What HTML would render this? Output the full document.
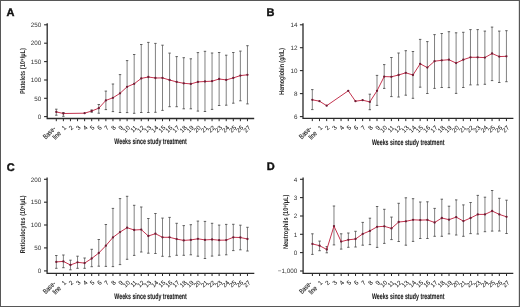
<!DOCTYPE html>
<html><head><meta charset="utf-8"><style>
html,body{margin:0;padding:0;background:#fff;}
body{width:520px;height:307px;overflow:hidden;}
svg{display:block;font-family:"Liberation Sans", sans-serif;will-change:transform;text-rendering:geometricPrecision;}
text{-webkit-font-smoothing:antialiased;}
</style></head><body>
<svg width="520" height="307" viewBox="0 0 520 307">
<rect x="0" y="0" width="520" height="307" fill="#fff"/>
<text x="6.5" y="15.8" font-size="11" font-weight="bold" fill="#111" stroke="#111" stroke-width="0.4">A</text>
<path d="M47.2 23.3V118.5H254.2" fill="none" stroke="#2a2a2a" stroke-width="1.3"/>
<path d="M44.1 24.8H47.2" stroke="#2a2a2a" stroke-width="1.1"/>
<text x="41.3" y="27.0" font-size="6.3" text-anchor="end" fill="#333333">250</text>
<path d="M44.1 43.2H47.2" stroke="#2a2a2a" stroke-width="1.1"/>
<text x="41.3" y="45.4" font-size="6.3" text-anchor="end" fill="#333333">200</text>
<path d="M44.1 61.6H47.2" stroke="#2a2a2a" stroke-width="1.1"/>
<text x="41.3" y="63.8" font-size="6.3" text-anchor="end" fill="#333333">150</text>
<path d="M44.1 80.0H47.2" stroke="#2a2a2a" stroke-width="1.1"/>
<text x="41.3" y="82.2" font-size="6.3" text-anchor="end" fill="#333333">100</text>
<path d="M44.1 98.3H47.2" stroke="#2a2a2a" stroke-width="1.1"/>
<text x="41.3" y="100.5" font-size="6.3" text-anchor="end" fill="#333333">50</text>
<path d="M44.1 116.6H47.2" stroke="#2a2a2a" stroke-width="1.1"/>
<text x="41.3" y="118.8" font-size="6.3" text-anchor="end" fill="#333333">0</text>
<path d="M56.30 118.5v2.7" stroke="#2a2a2a" stroke-width="1"/>
<text transform="translate(56.00,129.30) rotate(-45) scale(0.79,1)" font-size="7" text-anchor="end" fill="#1e1e1e" stroke="#1e1e1e" stroke-width="0.12">Base-</text>
<text transform="translate(61.50,133.90) rotate(-45) scale(0.79,1)" font-size="7" text-anchor="end" fill="#1e1e1e" stroke="#1e1e1e" stroke-width="0.12">line</text>
<path d="M63.38 118.5v2.7" stroke="#2a2a2a" stroke-width="1"/>
<text transform="translate(66.78,128.10) rotate(-45) scale(1.0,1)" font-size="6.3" text-anchor="end" fill="#111" stroke="#111" stroke-width="0.05">1</text>
<path d="M70.46 118.5v2.7" stroke="#2a2a2a" stroke-width="1"/>
<text transform="translate(73.86,128.10) rotate(-45) scale(1.0,1)" font-size="6.3" text-anchor="end" fill="#111" stroke="#111" stroke-width="0.05">2</text>
<path d="M77.54 118.5v2.7" stroke="#2a2a2a" stroke-width="1"/>
<text transform="translate(80.94,128.10) rotate(-45) scale(1.0,1)" font-size="6.3" text-anchor="end" fill="#111" stroke="#111" stroke-width="0.05">3</text>
<path d="M84.62 118.5v2.7" stroke="#2a2a2a" stroke-width="1"/>
<text transform="translate(88.02,128.10) rotate(-45) scale(1.0,1)" font-size="6.3" text-anchor="end" fill="#111" stroke="#111" stroke-width="0.05">4</text>
<path d="M91.70 118.5v2.7" stroke="#2a2a2a" stroke-width="1"/>
<text transform="translate(95.10,128.10) rotate(-45) scale(1.0,1)" font-size="6.3" text-anchor="end" fill="#111" stroke="#111" stroke-width="0.05">5</text>
<path d="M98.78 118.5v2.7" stroke="#2a2a2a" stroke-width="1"/>
<text transform="translate(102.18,128.10) rotate(-45) scale(1.0,1)" font-size="6.3" text-anchor="end" fill="#111" stroke="#111" stroke-width="0.05">6</text>
<path d="M105.86 118.5v2.7" stroke="#2a2a2a" stroke-width="1"/>
<text transform="translate(109.26,128.10) rotate(-45) scale(1.0,1)" font-size="6.3" text-anchor="end" fill="#111" stroke="#111" stroke-width="0.05">7</text>
<path d="M112.94 118.5v2.7" stroke="#2a2a2a" stroke-width="1"/>
<text transform="translate(116.34,128.10) rotate(-45) scale(1.0,1)" font-size="6.3" text-anchor="end" fill="#111" stroke="#111" stroke-width="0.05">8</text>
<path d="M120.02 118.5v2.7" stroke="#2a2a2a" stroke-width="1"/>
<text transform="translate(123.42,128.10) rotate(-45) scale(1.0,1)" font-size="6.3" text-anchor="end" fill="#111" stroke="#111" stroke-width="0.05">9</text>
<path d="M127.10 118.5v2.7" stroke="#2a2a2a" stroke-width="1"/>
<text transform="translate(130.50,128.10) rotate(-45) scale(1.0,1)" font-size="6.3" text-anchor="end" fill="#111" stroke="#111" stroke-width="0.05">10</text>
<path d="M134.18 118.5v2.7" stroke="#2a2a2a" stroke-width="1"/>
<text transform="translate(137.58,128.10) rotate(-45) scale(1.0,1)" font-size="6.3" text-anchor="end" fill="#111" stroke="#111" stroke-width="0.05">11</text>
<path d="M141.26 118.5v2.7" stroke="#2a2a2a" stroke-width="1"/>
<text transform="translate(144.66,128.10) rotate(-45) scale(1.0,1)" font-size="6.3" text-anchor="end" fill="#111" stroke="#111" stroke-width="0.05">12</text>
<path d="M148.34 118.5v2.7" stroke="#2a2a2a" stroke-width="1"/>
<text transform="translate(151.74,128.10) rotate(-45) scale(1.0,1)" font-size="6.3" text-anchor="end" fill="#111" stroke="#111" stroke-width="0.05">13</text>
<path d="M155.42 118.5v2.7" stroke="#2a2a2a" stroke-width="1"/>
<text transform="translate(158.82,128.10) rotate(-45) scale(1.0,1)" font-size="6.3" text-anchor="end" fill="#111" stroke="#111" stroke-width="0.05">14</text>
<path d="M162.50 118.5v2.7" stroke="#2a2a2a" stroke-width="1"/>
<text transform="translate(165.90,128.10) rotate(-45) scale(1.0,1)" font-size="6.3" text-anchor="end" fill="#111" stroke="#111" stroke-width="0.05">15</text>
<path d="M169.58 118.5v2.7" stroke="#2a2a2a" stroke-width="1"/>
<text transform="translate(172.98,128.10) rotate(-45) scale(1.0,1)" font-size="6.3" text-anchor="end" fill="#111" stroke="#111" stroke-width="0.05">16</text>
<path d="M176.66 118.5v2.7" stroke="#2a2a2a" stroke-width="1"/>
<text transform="translate(180.06,128.10) rotate(-45) scale(1.0,1)" font-size="6.3" text-anchor="end" fill="#111" stroke="#111" stroke-width="0.05">17</text>
<path d="M183.74 118.5v2.7" stroke="#2a2a2a" stroke-width="1"/>
<text transform="translate(187.14,128.10) rotate(-45) scale(1.0,1)" font-size="6.3" text-anchor="end" fill="#111" stroke="#111" stroke-width="0.05">18</text>
<path d="M190.82 118.5v2.7" stroke="#2a2a2a" stroke-width="1"/>
<text transform="translate(194.22,128.10) rotate(-45) scale(1.0,1)" font-size="6.3" text-anchor="end" fill="#111" stroke="#111" stroke-width="0.05">19</text>
<path d="M197.90 118.5v2.7" stroke="#2a2a2a" stroke-width="1"/>
<text transform="translate(201.30,128.10) rotate(-45) scale(1.0,1)" font-size="6.3" text-anchor="end" fill="#111" stroke="#111" stroke-width="0.05">20</text>
<path d="M204.98 118.5v2.7" stroke="#2a2a2a" stroke-width="1"/>
<text transform="translate(208.38,128.10) rotate(-45) scale(1.0,1)" font-size="6.3" text-anchor="end" fill="#111" stroke="#111" stroke-width="0.05">21</text>
<path d="M212.06 118.5v2.7" stroke="#2a2a2a" stroke-width="1"/>
<text transform="translate(215.46,128.10) rotate(-45) scale(1.0,1)" font-size="6.3" text-anchor="end" fill="#111" stroke="#111" stroke-width="0.05">22</text>
<path d="M219.14 118.5v2.7" stroke="#2a2a2a" stroke-width="1"/>
<text transform="translate(222.54,128.10) rotate(-45) scale(1.0,1)" font-size="6.3" text-anchor="end" fill="#111" stroke="#111" stroke-width="0.05">23</text>
<path d="M226.22 118.5v2.7" stroke="#2a2a2a" stroke-width="1"/>
<text transform="translate(229.62,128.10) rotate(-45) scale(1.0,1)" font-size="6.3" text-anchor="end" fill="#111" stroke="#111" stroke-width="0.05">24</text>
<path d="M233.30 118.5v2.7" stroke="#2a2a2a" stroke-width="1"/>
<text transform="translate(236.70,128.10) rotate(-45) scale(1.0,1)" font-size="6.3" text-anchor="end" fill="#111" stroke="#111" stroke-width="0.05">25</text>
<path d="M240.38 118.5v2.7" stroke="#2a2a2a" stroke-width="1"/>
<text transform="translate(243.78,128.10) rotate(-45) scale(1.0,1)" font-size="6.3" text-anchor="end" fill="#111" stroke="#111" stroke-width="0.05">26</text>
<path d="M247.46 118.5v2.7" stroke="#2a2a2a" stroke-width="1"/>
<text transform="translate(250.86,128.10) rotate(-45) scale(1.0,1)" font-size="6.3" text-anchor="end" fill="#111" stroke="#111" stroke-width="0.05">27</text>
<text transform="translate(25.0,71.1) rotate(-90)" font-size="7" font-weight="bold" text-anchor="middle" fill="#262626" textLength="46.0" lengthAdjust="spacingAndGlyphs">Platelets (10⁹/µL)</text>
<text x="150.6" y="144.4" font-size="8.1" font-weight="bold" text-anchor="middle" fill="#222" stroke="#222" stroke-width="0.1" textLength="72.5" lengthAdjust="spacingAndGlyphs">Weeks since study treatment</text>
<path d="M56.30 109.2V115.2" stroke="#6a6a6a" stroke-width="0.85" fill="none"/>
<path d="M55.10 109.2h2.4M55.10 115.2h2.4" stroke="#505050" stroke-width="0.9" fill="none"/>
<path d="M63.38 112.6V116.3" stroke="#6a6a6a" stroke-width="0.85" fill="none"/>
<path d="M62.18 112.6h2.4M62.18 116.3h2.4" stroke="#505050" stroke-width="0.9" fill="none"/>
<path d="M91.70 110.0V112.2" stroke="#6a6a6a" stroke-width="0.85" fill="none"/>
<path d="M90.50 110.0h2.4M90.50 112.2h2.4" stroke="#505050" stroke-width="0.9" fill="none"/>
<path d="M98.78 104.5V113.2" stroke="#6a6a6a" stroke-width="0.85" fill="none"/>
<path d="M97.58 104.5h2.4M97.58 113.2h2.4" stroke="#505050" stroke-width="0.9" fill="none"/>
<path d="M105.86 91.1V109.6" stroke="#6a6a6a" stroke-width="0.85" fill="none"/>
<path d="M104.66 91.1h2.4M104.66 109.6h2.4" stroke="#505050" stroke-width="0.9" fill="none"/>
<path d="M112.94 84.0V111.6" stroke="#6a6a6a" stroke-width="0.85" fill="none"/>
<path d="M111.74 84.0h2.4M111.74 111.6h2.4" stroke="#505050" stroke-width="0.9" fill="none"/>
<path d="M120.02 74.6V112.5" stroke="#6a6a6a" stroke-width="0.85" fill="none"/>
<path d="M118.82 74.6h2.4M118.82 112.5h2.4" stroke="#505050" stroke-width="0.9" fill="none"/>
<path d="M127.10 60.6V112.6" stroke="#6a6a6a" stroke-width="0.85" fill="none"/>
<path d="M125.90 60.6h2.4M125.90 112.6h2.4" stroke="#505050" stroke-width="0.9" fill="none"/>
<path d="M134.18 54.5V113.3" stroke="#6a6a6a" stroke-width="0.85" fill="none"/>
<path d="M132.98 54.5h2.4M132.98 113.3h2.4" stroke="#505050" stroke-width="0.9" fill="none"/>
<path d="M141.26 44.5V112.5" stroke="#6a6a6a" stroke-width="0.85" fill="none"/>
<path d="M140.06 44.5h2.4M140.06 112.5h2.4" stroke="#505050" stroke-width="0.9" fill="none"/>
<path d="M148.34 42.4V112.5" stroke="#6a6a6a" stroke-width="0.85" fill="none"/>
<path d="M147.14 42.4h2.4M147.14 112.5h2.4" stroke="#505050" stroke-width="0.9" fill="none"/>
<path d="M155.42 43.4V112.3" stroke="#6a6a6a" stroke-width="0.85" fill="none"/>
<path d="M154.22 43.4h2.4M154.22 112.3h2.4" stroke="#505050" stroke-width="0.9" fill="none"/>
<path d="M162.50 45.2V110.4" stroke="#6a6a6a" stroke-width="0.85" fill="none"/>
<path d="M161.30 45.2h2.4M161.30 110.4h2.4" stroke="#505050" stroke-width="0.9" fill="none"/>
<path d="M169.58 53.1V106.7" stroke="#6a6a6a" stroke-width="0.85" fill="none"/>
<path d="M168.38 53.1h2.4M168.38 106.7h2.4" stroke="#505050" stroke-width="0.9" fill="none"/>
<path d="M176.66 56.6V106.7" stroke="#6a6a6a" stroke-width="0.85" fill="none"/>
<path d="M175.46 56.6h2.4M175.46 106.7h2.4" stroke="#505050" stroke-width="0.9" fill="none"/>
<path d="M183.74 57.7V108.8" stroke="#6a6a6a" stroke-width="0.85" fill="none"/>
<path d="M182.54 57.7h2.4M182.54 108.8h2.4" stroke="#505050" stroke-width="0.9" fill="none"/>
<path d="M190.82 58.8V108.8" stroke="#6a6a6a" stroke-width="0.85" fill="none"/>
<path d="M189.62 58.8h2.4M189.62 108.8h2.4" stroke="#505050" stroke-width="0.9" fill="none"/>
<path d="M197.90 52.6V111.1" stroke="#6a6a6a" stroke-width="0.85" fill="none"/>
<path d="M196.70 52.6h2.4M196.70 111.1h2.4" stroke="#505050" stroke-width="0.9" fill="none"/>
<path d="M204.98 51.3V111.5" stroke="#6a6a6a" stroke-width="0.85" fill="none"/>
<path d="M203.78 51.3h2.4M203.78 111.5h2.4" stroke="#505050" stroke-width="0.9" fill="none"/>
<path d="M212.06 53.0V109.4" stroke="#6a6a6a" stroke-width="0.85" fill="none"/>
<path d="M210.86 53.0h2.4M210.86 109.4h2.4" stroke="#505050" stroke-width="0.9" fill="none"/>
<path d="M219.14 52.5V105.5" stroke="#6a6a6a" stroke-width="0.85" fill="none"/>
<path d="M217.94 52.5h2.4M217.94 105.5h2.4" stroke="#505050" stroke-width="0.9" fill="none"/>
<path d="M226.22 55.2V105.2" stroke="#6a6a6a" stroke-width="0.85" fill="none"/>
<path d="M225.02 55.2h2.4M225.02 105.2h2.4" stroke="#505050" stroke-width="0.9" fill="none"/>
<path d="M233.30 52.5V103.2" stroke="#6a6a6a" stroke-width="0.85" fill="none"/>
<path d="M232.10 52.5h2.4M232.10 103.2h2.4" stroke="#505050" stroke-width="0.9" fill="none"/>
<path d="M240.38 51.1V100.8" stroke="#6a6a6a" stroke-width="0.85" fill="none"/>
<path d="M239.18 51.1h2.4M239.18 100.8h2.4" stroke="#505050" stroke-width="0.9" fill="none"/>
<path d="M247.46 45.7V103.9" stroke="#6a6a6a" stroke-width="0.85" fill="none"/>
<path d="M246.26 45.7h2.4M246.26 103.9h2.4" stroke="#505050" stroke-width="0.9" fill="none"/>
<polyline points="56.30,111.9 63.38,113.5 84.62,113.2 91.70,111.0 98.78,108.2 105.86,100.4 112.94,97.8 120.02,93.3 127.10,86.8 134.18,83.8 141.26,78.4 148.34,77.0 155.42,78.0 162.50,77.9 169.58,80.0 176.66,81.9 183.74,83.3 190.82,83.9 197.90,81.9 204.98,81.5 212.06,81.2 219.14,79.0 226.22,79.9 233.30,77.9 240.38,75.6 247.46,74.8" fill="none" stroke="#c4344f" stroke-width="1.0"/>
<circle cx="56.30" cy="111.9" r="1.15" fill="#6e1c34"/>
<circle cx="63.38" cy="113.5" r="1.15" fill="#6e1c34"/>
<circle cx="84.62" cy="113.2" r="1.15" fill="#6e1c34"/>
<circle cx="91.70" cy="111.0" r="1.15" fill="#6e1c34"/>
<circle cx="98.78" cy="108.2" r="1.15" fill="#6e1c34"/>
<circle cx="105.86" cy="100.4" r="1.15" fill="#6e1c34"/>
<circle cx="112.94" cy="97.8" r="1.15" fill="#6e1c34"/>
<circle cx="120.02" cy="93.3" r="1.15" fill="#6e1c34"/>
<circle cx="127.10" cy="86.8" r="1.15" fill="#6e1c34"/>
<circle cx="134.18" cy="83.8" r="1.15" fill="#6e1c34"/>
<circle cx="141.26" cy="78.4" r="1.15" fill="#6e1c34"/>
<circle cx="148.34" cy="77.0" r="1.15" fill="#6e1c34"/>
<circle cx="155.42" cy="78.0" r="1.15" fill="#6e1c34"/>
<circle cx="162.50" cy="77.9" r="1.15" fill="#6e1c34"/>
<circle cx="169.58" cy="80.0" r="1.15" fill="#6e1c34"/>
<circle cx="176.66" cy="81.9" r="1.15" fill="#6e1c34"/>
<circle cx="183.74" cy="83.3" r="1.15" fill="#6e1c34"/>
<circle cx="190.82" cy="83.9" r="1.15" fill="#6e1c34"/>
<circle cx="197.90" cy="81.9" r="1.15" fill="#6e1c34"/>
<circle cx="204.98" cy="81.5" r="1.15" fill="#6e1c34"/>
<circle cx="212.06" cy="81.2" r="1.15" fill="#6e1c34"/>
<circle cx="219.14" cy="79.0" r="1.15" fill="#6e1c34"/>
<circle cx="226.22" cy="79.9" r="1.15" fill="#6e1c34"/>
<circle cx="233.30" cy="77.9" r="1.15" fill="#6e1c34"/>
<circle cx="240.38" cy="75.6" r="1.15" fill="#6e1c34"/>
<circle cx="247.46" cy="74.8" r="1.15" fill="#6e1c34"/>
<text x="266.6" y="15.8" font-size="11" font-weight="bold" fill="#111" stroke="#111" stroke-width="0.4">B</text>
<path d="M303.0 23.3V118.4H513.4" fill="none" stroke="#2a2a2a" stroke-width="1.3"/>
<path d="M299.9 24.8H303.0" stroke="#2a2a2a" stroke-width="1.1"/>
<text x="297.6" y="27.0" font-size="6.3" text-anchor="end" fill="#333333">14</text>
<path d="M299.9 47.7H303.0" stroke="#2a2a2a" stroke-width="1.1"/>
<text x="297.6" y="49.9" font-size="6.3" text-anchor="end" fill="#333333">12</text>
<path d="M299.9 70.6H303.0" stroke="#2a2a2a" stroke-width="1.1"/>
<text x="297.6" y="72.8" font-size="6.3" text-anchor="end" fill="#333333">10</text>
<path d="M299.9 93.6H303.0" stroke="#2a2a2a" stroke-width="1.1"/>
<text x="297.6" y="95.8" font-size="6.3" text-anchor="end" fill="#333333">8</text>
<path d="M299.9 116.6H303.0" stroke="#2a2a2a" stroke-width="1.1"/>
<text x="297.6" y="118.8" font-size="6.3" text-anchor="end" fill="#333333">6</text>
<path d="M312.30 118.4v2.7" stroke="#2a2a2a" stroke-width="1"/>
<text transform="translate(312.00,129.20) rotate(-45) scale(0.79,1)" font-size="7" text-anchor="end" fill="#1e1e1e" stroke="#1e1e1e" stroke-width="0.12">Base-</text>
<text transform="translate(317.50,133.80) rotate(-45) scale(0.79,1)" font-size="7" text-anchor="end" fill="#1e1e1e" stroke="#1e1e1e" stroke-width="0.12">line</text>
<path d="M319.49 118.4v2.7" stroke="#2a2a2a" stroke-width="1"/>
<text transform="translate(322.89,128.00) rotate(-45) scale(1.0,1)" font-size="6.3" text-anchor="end" fill="#111" stroke="#111" stroke-width="0.05">1</text>
<path d="M326.68 118.4v2.7" stroke="#2a2a2a" stroke-width="1"/>
<text transform="translate(330.08,128.00) rotate(-45) scale(1.0,1)" font-size="6.3" text-anchor="end" fill="#111" stroke="#111" stroke-width="0.05">2</text>
<path d="M333.87 118.4v2.7" stroke="#2a2a2a" stroke-width="1"/>
<text transform="translate(337.27,128.00) rotate(-45) scale(1.0,1)" font-size="6.3" text-anchor="end" fill="#111" stroke="#111" stroke-width="0.05">3</text>
<path d="M341.06 118.4v2.7" stroke="#2a2a2a" stroke-width="1"/>
<text transform="translate(344.46,128.00) rotate(-45) scale(1.0,1)" font-size="6.3" text-anchor="end" fill="#111" stroke="#111" stroke-width="0.05">4</text>
<path d="M348.25 118.4v2.7" stroke="#2a2a2a" stroke-width="1"/>
<text transform="translate(351.65,128.00) rotate(-45) scale(1.0,1)" font-size="6.3" text-anchor="end" fill="#111" stroke="#111" stroke-width="0.05">5</text>
<path d="M355.44 118.4v2.7" stroke="#2a2a2a" stroke-width="1"/>
<text transform="translate(358.84,128.00) rotate(-45) scale(1.0,1)" font-size="6.3" text-anchor="end" fill="#111" stroke="#111" stroke-width="0.05">6</text>
<path d="M362.63 118.4v2.7" stroke="#2a2a2a" stroke-width="1"/>
<text transform="translate(366.03,128.00) rotate(-45) scale(1.0,1)" font-size="6.3" text-anchor="end" fill="#111" stroke="#111" stroke-width="0.05">7</text>
<path d="M369.82 118.4v2.7" stroke="#2a2a2a" stroke-width="1"/>
<text transform="translate(373.22,128.00) rotate(-45) scale(1.0,1)" font-size="6.3" text-anchor="end" fill="#111" stroke="#111" stroke-width="0.05">8</text>
<path d="M377.01 118.4v2.7" stroke="#2a2a2a" stroke-width="1"/>
<text transform="translate(380.41,128.00) rotate(-45) scale(1.0,1)" font-size="6.3" text-anchor="end" fill="#111" stroke="#111" stroke-width="0.05">9</text>
<path d="M384.20 118.4v2.7" stroke="#2a2a2a" stroke-width="1"/>
<text transform="translate(387.60,128.00) rotate(-45) scale(1.0,1)" font-size="6.3" text-anchor="end" fill="#111" stroke="#111" stroke-width="0.05">10</text>
<path d="M391.39 118.4v2.7" stroke="#2a2a2a" stroke-width="1"/>
<text transform="translate(394.79,128.00) rotate(-45) scale(1.0,1)" font-size="6.3" text-anchor="end" fill="#111" stroke="#111" stroke-width="0.05">11</text>
<path d="M398.58 118.4v2.7" stroke="#2a2a2a" stroke-width="1"/>
<text transform="translate(401.98,128.00) rotate(-45) scale(1.0,1)" font-size="6.3" text-anchor="end" fill="#111" stroke="#111" stroke-width="0.05">12</text>
<path d="M405.77 118.4v2.7" stroke="#2a2a2a" stroke-width="1"/>
<text transform="translate(409.17,128.00) rotate(-45) scale(1.0,1)" font-size="6.3" text-anchor="end" fill="#111" stroke="#111" stroke-width="0.05">13</text>
<path d="M412.96 118.4v2.7" stroke="#2a2a2a" stroke-width="1"/>
<text transform="translate(416.36,128.00) rotate(-45) scale(1.0,1)" font-size="6.3" text-anchor="end" fill="#111" stroke="#111" stroke-width="0.05">14</text>
<path d="M420.15 118.4v2.7" stroke="#2a2a2a" stroke-width="1"/>
<text transform="translate(423.55,128.00) rotate(-45) scale(1.0,1)" font-size="6.3" text-anchor="end" fill="#111" stroke="#111" stroke-width="0.05">15</text>
<path d="M427.34 118.4v2.7" stroke="#2a2a2a" stroke-width="1"/>
<text transform="translate(430.74,128.00) rotate(-45) scale(1.0,1)" font-size="6.3" text-anchor="end" fill="#111" stroke="#111" stroke-width="0.05">16</text>
<path d="M434.53 118.4v2.7" stroke="#2a2a2a" stroke-width="1"/>
<text transform="translate(437.93,128.00) rotate(-45) scale(1.0,1)" font-size="6.3" text-anchor="end" fill="#111" stroke="#111" stroke-width="0.05">17</text>
<path d="M441.72 118.4v2.7" stroke="#2a2a2a" stroke-width="1"/>
<text transform="translate(445.12,128.00) rotate(-45) scale(1.0,1)" font-size="6.3" text-anchor="end" fill="#111" stroke="#111" stroke-width="0.05">18</text>
<path d="M448.91 118.4v2.7" stroke="#2a2a2a" stroke-width="1"/>
<text transform="translate(452.31,128.00) rotate(-45) scale(1.0,1)" font-size="6.3" text-anchor="end" fill="#111" stroke="#111" stroke-width="0.05">19</text>
<path d="M456.10 118.4v2.7" stroke="#2a2a2a" stroke-width="1"/>
<text transform="translate(459.50,128.00) rotate(-45) scale(1.0,1)" font-size="6.3" text-anchor="end" fill="#111" stroke="#111" stroke-width="0.05">20</text>
<path d="M463.29 118.4v2.7" stroke="#2a2a2a" stroke-width="1"/>
<text transform="translate(466.69,128.00) rotate(-45) scale(1.0,1)" font-size="6.3" text-anchor="end" fill="#111" stroke="#111" stroke-width="0.05">21</text>
<path d="M470.48 118.4v2.7" stroke="#2a2a2a" stroke-width="1"/>
<text transform="translate(473.88,128.00) rotate(-45) scale(1.0,1)" font-size="6.3" text-anchor="end" fill="#111" stroke="#111" stroke-width="0.05">22</text>
<path d="M477.67 118.4v2.7" stroke="#2a2a2a" stroke-width="1"/>
<text transform="translate(481.07,128.00) rotate(-45) scale(1.0,1)" font-size="6.3" text-anchor="end" fill="#111" stroke="#111" stroke-width="0.05">23</text>
<path d="M484.86 118.4v2.7" stroke="#2a2a2a" stroke-width="1"/>
<text transform="translate(488.26,128.00) rotate(-45) scale(1.0,1)" font-size="6.3" text-anchor="end" fill="#111" stroke="#111" stroke-width="0.05">24</text>
<path d="M492.05 118.4v2.7" stroke="#2a2a2a" stroke-width="1"/>
<text transform="translate(495.45,128.00) rotate(-45) scale(1.0,1)" font-size="6.3" text-anchor="end" fill="#111" stroke="#111" stroke-width="0.05">25</text>
<path d="M499.24 118.4v2.7" stroke="#2a2a2a" stroke-width="1"/>
<text transform="translate(502.64,128.00) rotate(-45) scale(1.0,1)" font-size="6.3" text-anchor="end" fill="#111" stroke="#111" stroke-width="0.05">26</text>
<path d="M506.43 118.4v2.7" stroke="#2a2a2a" stroke-width="1"/>
<text transform="translate(509.83,128.00) rotate(-45) scale(1.0,1)" font-size="6.3" text-anchor="end" fill="#111" stroke="#111" stroke-width="0.05">27</text>
<text transform="translate(284.3,71.3) rotate(-90)" font-size="7" font-weight="bold" text-anchor="middle" fill="#262626" textLength="46.7" lengthAdjust="spacingAndGlyphs">Hemoglobin (g/dL)</text>
<text x="408.2" y="144.6" font-size="8.1" font-weight="bold" text-anchor="middle" fill="#222" stroke="#222" stroke-width="0.1" textLength="72.5" lengthAdjust="spacingAndGlyphs">Weeks since study treatment</text>
<path d="M312.30 89.6V109.6" stroke="#6a6a6a" stroke-width="0.85" fill="none"/>
<path d="M311.10 89.6h2.4M311.10 109.6h2.4" stroke="#505050" stroke-width="0.9" fill="none"/>
<path d="M369.82 94.2V109.7" stroke="#6a6a6a" stroke-width="0.85" fill="none"/>
<path d="M368.62 94.2h2.4M368.62 109.7h2.4" stroke="#505050" stroke-width="0.9" fill="none"/>
<path d="M377.01 75.4V105.4" stroke="#6a6a6a" stroke-width="0.85" fill="none"/>
<path d="M375.81 75.4h2.4M375.81 105.4h2.4" stroke="#505050" stroke-width="0.9" fill="none"/>
<path d="M384.20 64.6V88.4" stroke="#6a6a6a" stroke-width="0.85" fill="none"/>
<path d="M383.00 64.6h2.4M383.00 88.4h2.4" stroke="#505050" stroke-width="0.9" fill="none"/>
<path d="M391.39 57.5V96.6" stroke="#6a6a6a" stroke-width="0.85" fill="none"/>
<path d="M390.19 57.5h2.4M390.19 96.6h2.4" stroke="#505050" stroke-width="0.9" fill="none"/>
<path d="M398.58 53.0V97.0" stroke="#6a6a6a" stroke-width="0.85" fill="none"/>
<path d="M397.38 53.0h2.4M397.38 97.0h2.4" stroke="#505050" stroke-width="0.9" fill="none"/>
<path d="M405.77 50.7V95.2" stroke="#6a6a6a" stroke-width="0.85" fill="none"/>
<path d="M404.57 50.7h2.4M404.57 95.2h2.4" stroke="#505050" stroke-width="0.9" fill="none"/>
<path d="M412.96 51.5V98.3" stroke="#6a6a6a" stroke-width="0.85" fill="none"/>
<path d="M411.76 51.5h2.4M411.76 98.3h2.4" stroke="#505050" stroke-width="0.9" fill="none"/>
<path d="M420.15 39.4V87.2" stroke="#6a6a6a" stroke-width="0.85" fill="none"/>
<path d="M418.95 39.4h2.4M418.95 87.2h2.4" stroke="#505050" stroke-width="0.9" fill="none"/>
<path d="M427.34 41.6V93.5" stroke="#6a6a6a" stroke-width="0.85" fill="none"/>
<path d="M426.14 41.6h2.4M426.14 93.5h2.4" stroke="#505050" stroke-width="0.9" fill="none"/>
<path d="M434.53 34.6V88.4" stroke="#6a6a6a" stroke-width="0.85" fill="none"/>
<path d="M433.33 34.6h2.4M433.33 88.4h2.4" stroke="#505050" stroke-width="0.9" fill="none"/>
<path d="M441.72 33.5V87.5" stroke="#6a6a6a" stroke-width="0.85" fill="none"/>
<path d="M440.52 33.5h2.4M440.52 87.5h2.4" stroke="#505050" stroke-width="0.9" fill="none"/>
<path d="M448.91 31.7V87.6" stroke="#6a6a6a" stroke-width="0.85" fill="none"/>
<path d="M447.71 31.7h2.4M447.71 87.6h2.4" stroke="#505050" stroke-width="0.9" fill="none"/>
<path d="M456.10 32.8V93.4" stroke="#6a6a6a" stroke-width="0.85" fill="none"/>
<path d="M454.90 32.8h2.4M454.90 93.4h2.4" stroke="#505050" stroke-width="0.9" fill="none"/>
<path d="M463.29 32.3V87.5" stroke="#6a6a6a" stroke-width="0.85" fill="none"/>
<path d="M462.09 32.3h2.4M462.09 87.5h2.4" stroke="#505050" stroke-width="0.9" fill="none"/>
<path d="M470.48 29.6V84.9" stroke="#6a6a6a" stroke-width="0.85" fill="none"/>
<path d="M469.28 29.6h2.4M469.28 84.9h2.4" stroke="#505050" stroke-width="0.9" fill="none"/>
<path d="M477.67 29.6V84.9" stroke="#6a6a6a" stroke-width="0.85" fill="none"/>
<path d="M476.47 29.6h2.4M476.47 84.9h2.4" stroke="#505050" stroke-width="0.9" fill="none"/>
<path d="M484.86 31.1V84.3" stroke="#6a6a6a" stroke-width="0.85" fill="none"/>
<path d="M483.66 31.1h2.4M483.66 84.3h2.4" stroke="#505050" stroke-width="0.9" fill="none"/>
<path d="M492.05 27.1V80.6" stroke="#6a6a6a" stroke-width="0.85" fill="none"/>
<path d="M490.85 27.1h2.4M490.85 80.6h2.4" stroke="#505050" stroke-width="0.9" fill="none"/>
<path d="M499.24 31.1V82.5" stroke="#6a6a6a" stroke-width="0.85" fill="none"/>
<path d="M498.04 31.1h2.4M498.04 82.5h2.4" stroke="#505050" stroke-width="0.9" fill="none"/>
<path d="M506.43 30.7V81.7" stroke="#6a6a6a" stroke-width="0.85" fill="none"/>
<path d="M505.23 30.7h2.4M505.23 81.7h2.4" stroke="#505050" stroke-width="0.9" fill="none"/>
<polyline points="312.30,99.8 319.49,101.2 326.68,105.7 348.25,90.8 355.44,101.2 362.63,100.2 369.82,101.9 377.01,90.8 384.20,76.6 391.39,76.8 398.58,75.0 405.77,72.8 412.96,75.0 420.15,63.8 427.34,67.6 434.53,61.2 441.72,60.3 448.91,59.7 456.10,63.1 463.29,59.7 470.48,57.3 477.67,57.3 484.86,57.6 492.05,53.5 499.24,56.6 506.43,56.3" fill="none" stroke="#c4344f" stroke-width="1.0"/>
<circle cx="312.30" cy="99.8" r="1.15" fill="#6e1c34"/>
<circle cx="319.49" cy="101.2" r="1.15" fill="#6e1c34"/>
<circle cx="326.68" cy="105.7" r="1.15" fill="#6e1c34"/>
<circle cx="348.25" cy="90.8" r="1.15" fill="#6e1c34"/>
<circle cx="355.44" cy="101.2" r="1.15" fill="#6e1c34"/>
<circle cx="362.63" cy="100.2" r="1.15" fill="#6e1c34"/>
<circle cx="369.82" cy="101.9" r="1.15" fill="#6e1c34"/>
<circle cx="377.01" cy="90.8" r="1.15" fill="#6e1c34"/>
<circle cx="384.20" cy="76.6" r="1.15" fill="#6e1c34"/>
<circle cx="391.39" cy="76.8" r="1.15" fill="#6e1c34"/>
<circle cx="398.58" cy="75.0" r="1.15" fill="#6e1c34"/>
<circle cx="405.77" cy="72.8" r="1.15" fill="#6e1c34"/>
<circle cx="412.96" cy="75.0" r="1.15" fill="#6e1c34"/>
<circle cx="420.15" cy="63.8" r="1.15" fill="#6e1c34"/>
<circle cx="427.34" cy="67.6" r="1.15" fill="#6e1c34"/>
<circle cx="434.53" cy="61.2" r="1.15" fill="#6e1c34"/>
<circle cx="441.72" cy="60.3" r="1.15" fill="#6e1c34"/>
<circle cx="448.91" cy="59.7" r="1.15" fill="#6e1c34"/>
<circle cx="456.10" cy="63.1" r="1.15" fill="#6e1c34"/>
<circle cx="463.29" cy="59.7" r="1.15" fill="#6e1c34"/>
<circle cx="470.48" cy="57.3" r="1.15" fill="#6e1c34"/>
<circle cx="477.67" cy="57.3" r="1.15" fill="#6e1c34"/>
<circle cx="484.86" cy="57.6" r="1.15" fill="#6e1c34"/>
<circle cx="492.05" cy="53.5" r="1.15" fill="#6e1c34"/>
<circle cx="499.24" cy="56.6" r="1.15" fill="#6e1c34"/>
<circle cx="506.43" cy="56.3" r="1.15" fill="#6e1c34"/>
<text x="6.7" y="170.5" font-size="11" font-weight="bold" fill="#111" stroke="#111" stroke-width="0.4">C</text>
<path d="M47.1 177.6V273.3H254.3" fill="none" stroke="#2a2a2a" stroke-width="1.3"/>
<path d="M44.0 179.3H47.1" stroke="#2a2a2a" stroke-width="1.1"/>
<text x="41.3" y="181.5" font-size="6.3" text-anchor="end" fill="#333333">200</text>
<path d="M44.0 202.2H47.1" stroke="#2a2a2a" stroke-width="1.1"/>
<text x="41.3" y="204.4" font-size="6.3" text-anchor="end" fill="#333333">150</text>
<path d="M44.0 225.0H47.1" stroke="#2a2a2a" stroke-width="1.1"/>
<text x="41.3" y="227.2" font-size="6.3" text-anchor="end" fill="#333333">100</text>
<path d="M44.0 247.9H47.1" stroke="#2a2a2a" stroke-width="1.1"/>
<text x="41.3" y="250.1" font-size="6.3" text-anchor="end" fill="#333333">50</text>
<path d="M44.0 270.9H47.1" stroke="#2a2a2a" stroke-width="1.1"/>
<text x="41.3" y="273.1" font-size="6.3" text-anchor="end" fill="#333333">0</text>
<path d="M56.30 273.3v2.7" stroke="#2a2a2a" stroke-width="1"/>
<text transform="translate(56.00,284.10) rotate(-45) scale(0.79,1)" font-size="7" text-anchor="end" fill="#1e1e1e" stroke="#1e1e1e" stroke-width="0.12">Base-</text>
<text transform="translate(61.50,288.70) rotate(-45) scale(0.79,1)" font-size="7" text-anchor="end" fill="#1e1e1e" stroke="#1e1e1e" stroke-width="0.12">line</text>
<path d="M63.38 273.3v2.7" stroke="#2a2a2a" stroke-width="1"/>
<text transform="translate(66.78,282.90) rotate(-45) scale(1.0,1)" font-size="6.3" text-anchor="end" fill="#111" stroke="#111" stroke-width="0.05">1</text>
<path d="M70.46 273.3v2.7" stroke="#2a2a2a" stroke-width="1"/>
<text transform="translate(73.86,282.90) rotate(-45) scale(1.0,1)" font-size="6.3" text-anchor="end" fill="#111" stroke="#111" stroke-width="0.05">2</text>
<path d="M77.54 273.3v2.7" stroke="#2a2a2a" stroke-width="1"/>
<text transform="translate(80.94,282.90) rotate(-45) scale(1.0,1)" font-size="6.3" text-anchor="end" fill="#111" stroke="#111" stroke-width="0.05">3</text>
<path d="M84.62 273.3v2.7" stroke="#2a2a2a" stroke-width="1"/>
<text transform="translate(88.02,282.90) rotate(-45) scale(1.0,1)" font-size="6.3" text-anchor="end" fill="#111" stroke="#111" stroke-width="0.05">4</text>
<path d="M91.70 273.3v2.7" stroke="#2a2a2a" stroke-width="1"/>
<text transform="translate(95.10,282.90) rotate(-45) scale(1.0,1)" font-size="6.3" text-anchor="end" fill="#111" stroke="#111" stroke-width="0.05">5</text>
<path d="M98.78 273.3v2.7" stroke="#2a2a2a" stroke-width="1"/>
<text transform="translate(102.18,282.90) rotate(-45) scale(1.0,1)" font-size="6.3" text-anchor="end" fill="#111" stroke="#111" stroke-width="0.05">6</text>
<path d="M105.86 273.3v2.7" stroke="#2a2a2a" stroke-width="1"/>
<text transform="translate(109.26,282.90) rotate(-45) scale(1.0,1)" font-size="6.3" text-anchor="end" fill="#111" stroke="#111" stroke-width="0.05">7</text>
<path d="M112.94 273.3v2.7" stroke="#2a2a2a" stroke-width="1"/>
<text transform="translate(116.34,282.90) rotate(-45) scale(1.0,1)" font-size="6.3" text-anchor="end" fill="#111" stroke="#111" stroke-width="0.05">8</text>
<path d="M120.02 273.3v2.7" stroke="#2a2a2a" stroke-width="1"/>
<text transform="translate(123.42,282.90) rotate(-45) scale(1.0,1)" font-size="6.3" text-anchor="end" fill="#111" stroke="#111" stroke-width="0.05">9</text>
<path d="M127.10 273.3v2.7" stroke="#2a2a2a" stroke-width="1"/>
<text transform="translate(130.50,282.90) rotate(-45) scale(1.0,1)" font-size="6.3" text-anchor="end" fill="#111" stroke="#111" stroke-width="0.05">10</text>
<path d="M134.18 273.3v2.7" stroke="#2a2a2a" stroke-width="1"/>
<text transform="translate(137.58,282.90) rotate(-45) scale(1.0,1)" font-size="6.3" text-anchor="end" fill="#111" stroke="#111" stroke-width="0.05">11</text>
<path d="M141.26 273.3v2.7" stroke="#2a2a2a" stroke-width="1"/>
<text transform="translate(144.66,282.90) rotate(-45) scale(1.0,1)" font-size="6.3" text-anchor="end" fill="#111" stroke="#111" stroke-width="0.05">12</text>
<path d="M148.34 273.3v2.7" stroke="#2a2a2a" stroke-width="1"/>
<text transform="translate(151.74,282.90) rotate(-45) scale(1.0,1)" font-size="6.3" text-anchor="end" fill="#111" stroke="#111" stroke-width="0.05">13</text>
<path d="M155.42 273.3v2.7" stroke="#2a2a2a" stroke-width="1"/>
<text transform="translate(158.82,282.90) rotate(-45) scale(1.0,1)" font-size="6.3" text-anchor="end" fill="#111" stroke="#111" stroke-width="0.05">14</text>
<path d="M162.50 273.3v2.7" stroke="#2a2a2a" stroke-width="1"/>
<text transform="translate(165.90,282.90) rotate(-45) scale(1.0,1)" font-size="6.3" text-anchor="end" fill="#111" stroke="#111" stroke-width="0.05">15</text>
<path d="M169.58 273.3v2.7" stroke="#2a2a2a" stroke-width="1"/>
<text transform="translate(172.98,282.90) rotate(-45) scale(1.0,1)" font-size="6.3" text-anchor="end" fill="#111" stroke="#111" stroke-width="0.05">16</text>
<path d="M176.66 273.3v2.7" stroke="#2a2a2a" stroke-width="1"/>
<text transform="translate(180.06,282.90) rotate(-45) scale(1.0,1)" font-size="6.3" text-anchor="end" fill="#111" stroke="#111" stroke-width="0.05">17</text>
<path d="M183.74 273.3v2.7" stroke="#2a2a2a" stroke-width="1"/>
<text transform="translate(187.14,282.90) rotate(-45) scale(1.0,1)" font-size="6.3" text-anchor="end" fill="#111" stroke="#111" stroke-width="0.05">18</text>
<path d="M190.82 273.3v2.7" stroke="#2a2a2a" stroke-width="1"/>
<text transform="translate(194.22,282.90) rotate(-45) scale(1.0,1)" font-size="6.3" text-anchor="end" fill="#111" stroke="#111" stroke-width="0.05">19</text>
<path d="M197.90 273.3v2.7" stroke="#2a2a2a" stroke-width="1"/>
<text transform="translate(201.30,282.90) rotate(-45) scale(1.0,1)" font-size="6.3" text-anchor="end" fill="#111" stroke="#111" stroke-width="0.05">20</text>
<path d="M204.98 273.3v2.7" stroke="#2a2a2a" stroke-width="1"/>
<text transform="translate(208.38,282.90) rotate(-45) scale(1.0,1)" font-size="6.3" text-anchor="end" fill="#111" stroke="#111" stroke-width="0.05">21</text>
<path d="M212.06 273.3v2.7" stroke="#2a2a2a" stroke-width="1"/>
<text transform="translate(215.46,282.90) rotate(-45) scale(1.0,1)" font-size="6.3" text-anchor="end" fill="#111" stroke="#111" stroke-width="0.05">22</text>
<path d="M219.14 273.3v2.7" stroke="#2a2a2a" stroke-width="1"/>
<text transform="translate(222.54,282.90) rotate(-45) scale(1.0,1)" font-size="6.3" text-anchor="end" fill="#111" stroke="#111" stroke-width="0.05">23</text>
<path d="M226.22 273.3v2.7" stroke="#2a2a2a" stroke-width="1"/>
<text transform="translate(229.62,282.90) rotate(-45) scale(1.0,1)" font-size="6.3" text-anchor="end" fill="#111" stroke="#111" stroke-width="0.05">24</text>
<path d="M233.30 273.3v2.7" stroke="#2a2a2a" stroke-width="1"/>
<text transform="translate(236.70,282.90) rotate(-45) scale(1.0,1)" font-size="6.3" text-anchor="end" fill="#111" stroke="#111" stroke-width="0.05">25</text>
<path d="M240.38 273.3v2.7" stroke="#2a2a2a" stroke-width="1"/>
<text transform="translate(243.78,282.90) rotate(-45) scale(1.0,1)" font-size="6.3" text-anchor="end" fill="#111" stroke="#111" stroke-width="0.05">26</text>
<path d="M247.46 273.3v2.7" stroke="#2a2a2a" stroke-width="1"/>
<text transform="translate(250.86,282.90) rotate(-45) scale(1.0,1)" font-size="6.3" text-anchor="end" fill="#111" stroke="#111" stroke-width="0.05">27</text>
<text transform="translate(24.7,224.3) rotate(-90)" font-size="7" font-weight="bold" text-anchor="middle" fill="#262626" textLength="57.8" lengthAdjust="spacingAndGlyphs">Reticulocytes (10⁹/µL)</text>
<text x="150.6" y="298.5" font-size="8.1" font-weight="bold" text-anchor="middle" fill="#222" stroke="#222" stroke-width="0.1" textLength="72.5" lengthAdjust="spacingAndGlyphs">Weeks since study treatment</text>
<path d="M56.30 255.5V268.3" stroke="#6a6a6a" stroke-width="0.85" fill="none"/>
<path d="M55.10 255.5h2.4M55.10 268.3h2.4" stroke="#505050" stroke-width="0.9" fill="none"/>
<path d="M63.38 255.0V267.7" stroke="#6a6a6a" stroke-width="0.85" fill="none"/>
<path d="M62.18 255.0h2.4M62.18 267.7h2.4" stroke="#505050" stroke-width="0.9" fill="none"/>
<path d="M70.46 260.2V269.8" stroke="#6a6a6a" stroke-width="0.85" fill="none"/>
<path d="M69.26 260.2h2.4M69.26 269.8h2.4" stroke="#505050" stroke-width="0.9" fill="none"/>
<path d="M77.54 256.2V268.3" stroke="#6a6a6a" stroke-width="0.85" fill="none"/>
<path d="M76.34 256.2h2.4M76.34 268.3h2.4" stroke="#505050" stroke-width="0.9" fill="none"/>
<path d="M84.62 258.0V268.3" stroke="#6a6a6a" stroke-width="0.85" fill="none"/>
<path d="M83.42 258.0h2.4M83.42 268.3h2.4" stroke="#505050" stroke-width="0.9" fill="none"/>
<path d="M91.70 249.3V266.7" stroke="#6a6a6a" stroke-width="0.85" fill="none"/>
<path d="M90.50 249.3h2.4M90.50 266.7h2.4" stroke="#505050" stroke-width="0.9" fill="none"/>
<path d="M98.78 239.5V266.2" stroke="#6a6a6a" stroke-width="0.85" fill="none"/>
<path d="M97.58 239.5h2.4M97.58 266.2h2.4" stroke="#505050" stroke-width="0.9" fill="none"/>
<path d="M105.86 224.5V266.4" stroke="#6a6a6a" stroke-width="0.85" fill="none"/>
<path d="M104.66 224.5h2.4M104.66 266.4h2.4" stroke="#505050" stroke-width="0.9" fill="none"/>
<path d="M112.94 208.4V266.6" stroke="#6a6a6a" stroke-width="0.85" fill="none"/>
<path d="M111.74 208.4h2.4M111.74 266.6h2.4" stroke="#505050" stroke-width="0.9" fill="none"/>
<path d="M120.02 198.6V264.6" stroke="#6a6a6a" stroke-width="0.85" fill="none"/>
<path d="M118.82 198.6h2.4M118.82 264.6h2.4" stroke="#505050" stroke-width="0.9" fill="none"/>
<path d="M127.10 196.3V259.3" stroke="#6a6a6a" stroke-width="0.85" fill="none"/>
<path d="M125.90 196.3h2.4M125.90 259.3h2.4" stroke="#505050" stroke-width="0.9" fill="none"/>
<path d="M134.18 205.3V255.4" stroke="#6a6a6a" stroke-width="0.85" fill="none"/>
<path d="M132.98 205.3h2.4M132.98 255.4h2.4" stroke="#505050" stroke-width="0.9" fill="none"/>
<path d="M141.26 207.0V252.0" stroke="#6a6a6a" stroke-width="0.85" fill="none"/>
<path d="M140.06 207.0h2.4M140.06 252.0h2.4" stroke="#505050" stroke-width="0.9" fill="none"/>
<path d="M148.34 218.5V253.2" stroke="#6a6a6a" stroke-width="0.85" fill="none"/>
<path d="M147.14 218.5h2.4M147.14 253.2h2.4" stroke="#505050" stroke-width="0.9" fill="none"/>
<path d="M155.42 213.5V253.5" stroke="#6a6a6a" stroke-width="0.85" fill="none"/>
<path d="M154.22 213.5h2.4M154.22 253.5h2.4" stroke="#505050" stroke-width="0.9" fill="none"/>
<path d="M162.50 218.1V256.3" stroke="#6a6a6a" stroke-width="0.85" fill="none"/>
<path d="M161.30 218.1h2.4M161.30 256.3h2.4" stroke="#505050" stroke-width="0.9" fill="none"/>
<path d="M169.58 217.4V256.7" stroke="#6a6a6a" stroke-width="0.85" fill="none"/>
<path d="M168.38 217.4h2.4M168.38 256.7h2.4" stroke="#505050" stroke-width="0.9" fill="none"/>
<path d="M176.66 223.3V255.3" stroke="#6a6a6a" stroke-width="0.85" fill="none"/>
<path d="M175.46 223.3h2.4M175.46 255.3h2.4" stroke="#505050" stroke-width="0.9" fill="none"/>
<path d="M183.74 225.6V255.3" stroke="#6a6a6a" stroke-width="0.85" fill="none"/>
<path d="M182.54 225.6h2.4M182.54 255.3h2.4" stroke="#505050" stroke-width="0.9" fill="none"/>
<path d="M190.82 224.7V254.8" stroke="#6a6a6a" stroke-width="0.85" fill="none"/>
<path d="M189.62 224.7h2.4M189.62 254.8h2.4" stroke="#505050" stroke-width="0.9" fill="none"/>
<path d="M197.90 221.1V256.2" stroke="#6a6a6a" stroke-width="0.85" fill="none"/>
<path d="M196.70 221.1h2.4M196.70 256.2h2.4" stroke="#505050" stroke-width="0.9" fill="none"/>
<path d="M204.98 221.4V258.5" stroke="#6a6a6a" stroke-width="0.85" fill="none"/>
<path d="M203.78 221.4h2.4M203.78 258.5h2.4" stroke="#505050" stroke-width="0.9" fill="none"/>
<path d="M212.06 223.3V256.1" stroke="#6a6a6a" stroke-width="0.85" fill="none"/>
<path d="M210.86 223.3h2.4M210.86 256.1h2.4" stroke="#505050" stroke-width="0.9" fill="none"/>
<path d="M219.14 225.1V255.2" stroke="#6a6a6a" stroke-width="0.85" fill="none"/>
<path d="M217.94 225.1h2.4M217.94 255.2h2.4" stroke="#505050" stroke-width="0.9" fill="none"/>
<path d="M226.22 224.4V254.8" stroke="#6a6a6a" stroke-width="0.85" fill="none"/>
<path d="M225.02 224.4h2.4M225.02 254.8h2.4" stroke="#505050" stroke-width="0.9" fill="none"/>
<path d="M233.30 224.3V250.6" stroke="#6a6a6a" stroke-width="0.85" fill="none"/>
<path d="M232.10 224.3h2.4M232.10 250.6h2.4" stroke="#505050" stroke-width="0.9" fill="none"/>
<path d="M240.38 225.2V249.8" stroke="#6a6a6a" stroke-width="0.85" fill="none"/>
<path d="M239.18 225.2h2.4M239.18 249.8h2.4" stroke="#505050" stroke-width="0.9" fill="none"/>
<path d="M247.46 227.3V251.0" stroke="#6a6a6a" stroke-width="0.85" fill="none"/>
<path d="M246.26 227.3h2.4M246.26 251.0h2.4" stroke="#505050" stroke-width="0.9" fill="none"/>
<polyline points="56.30,261.9 63.38,261.4 70.46,265.0 77.54,262.3 84.62,263.1 91.70,258.5 98.78,253.0 105.86,245.7 112.94,237.4 120.02,232.1 127.10,227.7 134.18,230.0 141.26,229.6 148.34,236.0 155.42,233.7 162.50,237.3 169.58,237.3 176.66,239.1 183.74,240.4 190.82,239.9 197.90,238.8 204.98,239.9 212.06,239.5 219.14,240.2 226.22,240.1 233.30,237.3 240.38,237.5 247.46,239.0" fill="none" stroke="#c4344f" stroke-width="1.0"/>
<circle cx="56.30" cy="261.9" r="1.15" fill="#6e1c34"/>
<circle cx="63.38" cy="261.4" r="1.15" fill="#6e1c34"/>
<circle cx="70.46" cy="265.0" r="1.15" fill="#6e1c34"/>
<circle cx="77.54" cy="262.3" r="1.15" fill="#6e1c34"/>
<circle cx="84.62" cy="263.1" r="1.15" fill="#6e1c34"/>
<circle cx="91.70" cy="258.5" r="1.15" fill="#6e1c34"/>
<circle cx="98.78" cy="253.0" r="1.15" fill="#6e1c34"/>
<circle cx="105.86" cy="245.7" r="1.15" fill="#6e1c34"/>
<circle cx="112.94" cy="237.4" r="1.15" fill="#6e1c34"/>
<circle cx="120.02" cy="232.1" r="1.15" fill="#6e1c34"/>
<circle cx="127.10" cy="227.7" r="1.15" fill="#6e1c34"/>
<circle cx="134.18" cy="230.0" r="1.15" fill="#6e1c34"/>
<circle cx="141.26" cy="229.6" r="1.15" fill="#6e1c34"/>
<circle cx="148.34" cy="236.0" r="1.15" fill="#6e1c34"/>
<circle cx="155.42" cy="233.7" r="1.15" fill="#6e1c34"/>
<circle cx="162.50" cy="237.3" r="1.15" fill="#6e1c34"/>
<circle cx="169.58" cy="237.3" r="1.15" fill="#6e1c34"/>
<circle cx="176.66" cy="239.1" r="1.15" fill="#6e1c34"/>
<circle cx="183.74" cy="240.4" r="1.15" fill="#6e1c34"/>
<circle cx="190.82" cy="239.9" r="1.15" fill="#6e1c34"/>
<circle cx="197.90" cy="238.8" r="1.15" fill="#6e1c34"/>
<circle cx="204.98" cy="239.9" r="1.15" fill="#6e1c34"/>
<circle cx="212.06" cy="239.5" r="1.15" fill="#6e1c34"/>
<circle cx="219.14" cy="240.2" r="1.15" fill="#6e1c34"/>
<circle cx="226.22" cy="240.1" r="1.15" fill="#6e1c34"/>
<circle cx="233.30" cy="237.3" r="1.15" fill="#6e1c34"/>
<circle cx="240.38" cy="237.5" r="1.15" fill="#6e1c34"/>
<circle cx="247.46" cy="239.0" r="1.15" fill="#6e1c34"/>
<text x="266.8" y="170.0" font-size="11" font-weight="bold" fill="#111" stroke="#111" stroke-width="0.4">D</text>
<path d="M303.1 177.6V273.3H513.3" fill="none" stroke="#2a2a2a" stroke-width="1.3"/>
<path d="M300.0 179.3H303.1" stroke="#2a2a2a" stroke-width="1.1"/>
<text x="297.2" y="181.5" font-size="6.3" text-anchor="end" fill="#333333">4</text>
<path d="M300.0 197.6H303.1" stroke="#2a2a2a" stroke-width="1.1"/>
<text x="297.2" y="199.8" font-size="6.3" text-anchor="end" fill="#333333">3</text>
<path d="M300.0 216.0H303.1" stroke="#2a2a2a" stroke-width="1.1"/>
<text x="297.2" y="218.2" font-size="6.3" text-anchor="end" fill="#333333">2</text>
<path d="M300.0 234.3H303.1" stroke="#2a2a2a" stroke-width="1.1"/>
<text x="297.2" y="236.5" font-size="6.3" text-anchor="end" fill="#333333">1</text>
<path d="M300.0 252.6H303.1" stroke="#2a2a2a" stroke-width="1.1"/>
<text x="297.2" y="254.8" font-size="6.3" text-anchor="end" fill="#333333">0</text>
<path d="M300.0 271.0H303.1" stroke="#2a2a2a" stroke-width="1.1"/>
<text x="297.2" y="273.2" font-size="6.3" text-anchor="end" fill="#333333">−1,000</text>
<path d="M312.40 273.3v2.7" stroke="#2a2a2a" stroke-width="1"/>
<text transform="translate(312.10,284.10) rotate(-45) scale(0.79,1)" font-size="7" text-anchor="end" fill="#1e1e1e" stroke="#1e1e1e" stroke-width="0.12">Base-</text>
<text transform="translate(317.60,288.70) rotate(-45) scale(0.79,1)" font-size="7" text-anchor="end" fill="#1e1e1e" stroke="#1e1e1e" stroke-width="0.12">line</text>
<path d="M319.59 273.3v2.7" stroke="#2a2a2a" stroke-width="1"/>
<text transform="translate(322.99,282.90) rotate(-45) scale(1.0,1)" font-size="6.3" text-anchor="end" fill="#111" stroke="#111" stroke-width="0.05">1</text>
<path d="M326.78 273.3v2.7" stroke="#2a2a2a" stroke-width="1"/>
<text transform="translate(330.18,282.90) rotate(-45) scale(1.0,1)" font-size="6.3" text-anchor="end" fill="#111" stroke="#111" stroke-width="0.05">2</text>
<path d="M333.97 273.3v2.7" stroke="#2a2a2a" stroke-width="1"/>
<text transform="translate(337.37,282.90) rotate(-45) scale(1.0,1)" font-size="6.3" text-anchor="end" fill="#111" stroke="#111" stroke-width="0.05">3</text>
<path d="M341.16 273.3v2.7" stroke="#2a2a2a" stroke-width="1"/>
<text transform="translate(344.56,282.90) rotate(-45) scale(1.0,1)" font-size="6.3" text-anchor="end" fill="#111" stroke="#111" stroke-width="0.05">4</text>
<path d="M348.35 273.3v2.7" stroke="#2a2a2a" stroke-width="1"/>
<text transform="translate(351.75,282.90) rotate(-45) scale(1.0,1)" font-size="6.3" text-anchor="end" fill="#111" stroke="#111" stroke-width="0.05">5</text>
<path d="M355.54 273.3v2.7" stroke="#2a2a2a" stroke-width="1"/>
<text transform="translate(358.94,282.90) rotate(-45) scale(1.0,1)" font-size="6.3" text-anchor="end" fill="#111" stroke="#111" stroke-width="0.05">6</text>
<path d="M362.73 273.3v2.7" stroke="#2a2a2a" stroke-width="1"/>
<text transform="translate(366.13,282.90) rotate(-45) scale(1.0,1)" font-size="6.3" text-anchor="end" fill="#111" stroke="#111" stroke-width="0.05">7</text>
<path d="M369.92 273.3v2.7" stroke="#2a2a2a" stroke-width="1"/>
<text transform="translate(373.32,282.90) rotate(-45) scale(1.0,1)" font-size="6.3" text-anchor="end" fill="#111" stroke="#111" stroke-width="0.05">8</text>
<path d="M377.11 273.3v2.7" stroke="#2a2a2a" stroke-width="1"/>
<text transform="translate(380.51,282.90) rotate(-45) scale(1.0,1)" font-size="6.3" text-anchor="end" fill="#111" stroke="#111" stroke-width="0.05">9</text>
<path d="M384.30 273.3v2.7" stroke="#2a2a2a" stroke-width="1"/>
<text transform="translate(387.70,282.90) rotate(-45) scale(1.0,1)" font-size="6.3" text-anchor="end" fill="#111" stroke="#111" stroke-width="0.05">10</text>
<path d="M391.49 273.3v2.7" stroke="#2a2a2a" stroke-width="1"/>
<text transform="translate(394.89,282.90) rotate(-45) scale(1.0,1)" font-size="6.3" text-anchor="end" fill="#111" stroke="#111" stroke-width="0.05">11</text>
<path d="M398.68 273.3v2.7" stroke="#2a2a2a" stroke-width="1"/>
<text transform="translate(402.08,282.90) rotate(-45) scale(1.0,1)" font-size="6.3" text-anchor="end" fill="#111" stroke="#111" stroke-width="0.05">12</text>
<path d="M405.87 273.3v2.7" stroke="#2a2a2a" stroke-width="1"/>
<text transform="translate(409.27,282.90) rotate(-45) scale(1.0,1)" font-size="6.3" text-anchor="end" fill="#111" stroke="#111" stroke-width="0.05">13</text>
<path d="M413.06 273.3v2.7" stroke="#2a2a2a" stroke-width="1"/>
<text transform="translate(416.46,282.90) rotate(-45) scale(1.0,1)" font-size="6.3" text-anchor="end" fill="#111" stroke="#111" stroke-width="0.05">14</text>
<path d="M420.25 273.3v2.7" stroke="#2a2a2a" stroke-width="1"/>
<text transform="translate(423.65,282.90) rotate(-45) scale(1.0,1)" font-size="6.3" text-anchor="end" fill="#111" stroke="#111" stroke-width="0.05">15</text>
<path d="M427.44 273.3v2.7" stroke="#2a2a2a" stroke-width="1"/>
<text transform="translate(430.84,282.90) rotate(-45) scale(1.0,1)" font-size="6.3" text-anchor="end" fill="#111" stroke="#111" stroke-width="0.05">16</text>
<path d="M434.63 273.3v2.7" stroke="#2a2a2a" stroke-width="1"/>
<text transform="translate(438.03,282.90) rotate(-45) scale(1.0,1)" font-size="6.3" text-anchor="end" fill="#111" stroke="#111" stroke-width="0.05">17</text>
<path d="M441.82 273.3v2.7" stroke="#2a2a2a" stroke-width="1"/>
<text transform="translate(445.22,282.90) rotate(-45) scale(1.0,1)" font-size="6.3" text-anchor="end" fill="#111" stroke="#111" stroke-width="0.05">18</text>
<path d="M449.01 273.3v2.7" stroke="#2a2a2a" stroke-width="1"/>
<text transform="translate(452.41,282.90) rotate(-45) scale(1.0,1)" font-size="6.3" text-anchor="end" fill="#111" stroke="#111" stroke-width="0.05">19</text>
<path d="M456.20 273.3v2.7" stroke="#2a2a2a" stroke-width="1"/>
<text transform="translate(459.60,282.90) rotate(-45) scale(1.0,1)" font-size="6.3" text-anchor="end" fill="#111" stroke="#111" stroke-width="0.05">20</text>
<path d="M463.39 273.3v2.7" stroke="#2a2a2a" stroke-width="1"/>
<text transform="translate(466.79,282.90) rotate(-45) scale(1.0,1)" font-size="6.3" text-anchor="end" fill="#111" stroke="#111" stroke-width="0.05">21</text>
<path d="M470.58 273.3v2.7" stroke="#2a2a2a" stroke-width="1"/>
<text transform="translate(473.98,282.90) rotate(-45) scale(1.0,1)" font-size="6.3" text-anchor="end" fill="#111" stroke="#111" stroke-width="0.05">22</text>
<path d="M477.77 273.3v2.7" stroke="#2a2a2a" stroke-width="1"/>
<text transform="translate(481.17,282.90) rotate(-45) scale(1.0,1)" font-size="6.3" text-anchor="end" fill="#111" stroke="#111" stroke-width="0.05">23</text>
<path d="M484.96 273.3v2.7" stroke="#2a2a2a" stroke-width="1"/>
<text transform="translate(488.36,282.90) rotate(-45) scale(1.0,1)" font-size="6.3" text-anchor="end" fill="#111" stroke="#111" stroke-width="0.05">24</text>
<path d="M492.15 273.3v2.7" stroke="#2a2a2a" stroke-width="1"/>
<text transform="translate(495.55,282.90) rotate(-45) scale(1.0,1)" font-size="6.3" text-anchor="end" fill="#111" stroke="#111" stroke-width="0.05">25</text>
<path d="M499.34 273.3v2.7" stroke="#2a2a2a" stroke-width="1"/>
<text transform="translate(502.74,282.90) rotate(-45) scale(1.0,1)" font-size="6.3" text-anchor="end" fill="#111" stroke="#111" stroke-width="0.05">26</text>
<path d="M506.53 273.3v2.7" stroke="#2a2a2a" stroke-width="1"/>
<text transform="translate(509.93,282.90) rotate(-45) scale(1.0,1)" font-size="6.3" text-anchor="end" fill="#111" stroke="#111" stroke-width="0.05">27</text>
<text transform="translate(288.0,221.9) rotate(-90)" font-size="7" font-weight="bold" text-anchor="middle" fill="#262626" textLength="54.4" lengthAdjust="spacingAndGlyphs">Neutrophils (10⁹/µL)</text>
<text x="408.2" y="298.5" font-size="8.1" font-weight="bold" text-anchor="middle" fill="#222" stroke="#222" stroke-width="0.1" textLength="72.5" lengthAdjust="spacingAndGlyphs">Weeks since study treatment</text>
<path d="M312.40 233.8V254.4" stroke="#6a6a6a" stroke-width="0.85" fill="none"/>
<path d="M311.20 233.8h2.4M311.20 254.4h2.4" stroke="#505050" stroke-width="0.9" fill="none"/>
<path d="M319.59 241.1V250.7" stroke="#6a6a6a" stroke-width="0.85" fill="none"/>
<path d="M318.39 241.1h2.4M318.39 250.7h2.4" stroke="#505050" stroke-width="0.9" fill="none"/>
<path d="M326.78 246.6V252.8" stroke="#6a6a6a" stroke-width="0.85" fill="none"/>
<path d="M325.58 246.6h2.4M325.58 252.8h2.4" stroke="#505050" stroke-width="0.9" fill="none"/>
<path d="M333.97 206.0V244.9" stroke="#6a6a6a" stroke-width="0.85" fill="none"/>
<path d="M332.77 206.0h2.4M332.77 244.9h2.4" stroke="#505050" stroke-width="0.9" fill="none"/>
<path d="M341.16 233.8V249.1" stroke="#6a6a6a" stroke-width="0.85" fill="none"/>
<path d="M339.96 233.8h2.4M339.96 249.1h2.4" stroke="#505050" stroke-width="0.9" fill="none"/>
<path d="M348.35 233.0V247.3" stroke="#6a6a6a" stroke-width="0.85" fill="none"/>
<path d="M347.15 233.0h2.4M347.15 247.3h2.4" stroke="#505050" stroke-width="0.9" fill="none"/>
<path d="M355.54 231.3V247.0" stroke="#6a6a6a" stroke-width="0.85" fill="none"/>
<path d="M354.34 231.3h2.4M354.34 247.0h2.4" stroke="#505050" stroke-width="0.9" fill="none"/>
<path d="M362.73 222.4V245.2" stroke="#6a6a6a" stroke-width="0.85" fill="none"/>
<path d="M361.53 222.4h2.4M361.53 245.2h2.4" stroke="#505050" stroke-width="0.9" fill="none"/>
<path d="M369.92 218.2V244.6" stroke="#6a6a6a" stroke-width="0.85" fill="none"/>
<path d="M368.72 218.2h2.4M368.72 244.6h2.4" stroke="#505050" stroke-width="0.9" fill="none"/>
<path d="M377.11 206.5V247.4" stroke="#6a6a6a" stroke-width="0.85" fill="none"/>
<path d="M375.91 206.5h2.4M375.91 247.4h2.4" stroke="#505050" stroke-width="0.9" fill="none"/>
<path d="M384.30 209.3V243.4" stroke="#6a6a6a" stroke-width="0.85" fill="none"/>
<path d="M383.10 209.3h2.4M383.10 243.4h2.4" stroke="#505050" stroke-width="0.9" fill="none"/>
<path d="M391.49 217.1V239.6" stroke="#6a6a6a" stroke-width="0.85" fill="none"/>
<path d="M390.29 217.1h2.4M390.29 239.6h2.4" stroke="#505050" stroke-width="0.9" fill="none"/>
<path d="M398.68 203.3V241.5" stroke="#6a6a6a" stroke-width="0.85" fill="none"/>
<path d="M397.48 203.3h2.4M397.48 241.5h2.4" stroke="#505050" stroke-width="0.9" fill="none"/>
<path d="M405.87 197.8V245.2" stroke="#6a6a6a" stroke-width="0.85" fill="none"/>
<path d="M404.67 197.8h2.4M404.67 245.2h2.4" stroke="#505050" stroke-width="0.9" fill="none"/>
<path d="M413.06 198.7V241.4" stroke="#6a6a6a" stroke-width="0.85" fill="none"/>
<path d="M411.86 198.7h2.4M411.86 241.4h2.4" stroke="#505050" stroke-width="0.9" fill="none"/>
<path d="M420.25 202.0V238.5" stroke="#6a6a6a" stroke-width="0.85" fill="none"/>
<path d="M419.05 202.0h2.4M419.05 238.5h2.4" stroke="#505050" stroke-width="0.9" fill="none"/>
<path d="M427.44 201.8V238.5" stroke="#6a6a6a" stroke-width="0.85" fill="none"/>
<path d="M426.24 201.8h2.4M426.24 238.5h2.4" stroke="#505050" stroke-width="0.9" fill="none"/>
<path d="M434.63 208.4V236.3" stroke="#6a6a6a" stroke-width="0.85" fill="none"/>
<path d="M433.43 208.4h2.4M433.43 236.3h2.4" stroke="#505050" stroke-width="0.9" fill="none"/>
<path d="M441.82 199.2V236.3" stroke="#6a6a6a" stroke-width="0.85" fill="none"/>
<path d="M440.62 199.2h2.4M440.62 236.3h2.4" stroke="#505050" stroke-width="0.9" fill="none"/>
<path d="M449.01 206.2V233.9" stroke="#6a6a6a" stroke-width="0.85" fill="none"/>
<path d="M447.81 206.2h2.4M447.81 233.9h2.4" stroke="#505050" stroke-width="0.9" fill="none"/>
<path d="M456.20 199.9V235.0" stroke="#6a6a6a" stroke-width="0.85" fill="none"/>
<path d="M455.00 199.9h2.4M455.00 235.0h2.4" stroke="#505050" stroke-width="0.9" fill="none"/>
<path d="M463.39 204.9V236.3" stroke="#6a6a6a" stroke-width="0.85" fill="none"/>
<path d="M462.19 204.9h2.4M462.19 236.3h2.4" stroke="#505050" stroke-width="0.9" fill="none"/>
<path d="M470.58 202.5V233.6" stroke="#6a6a6a" stroke-width="0.85" fill="none"/>
<path d="M469.38 202.5h2.4M469.38 233.6h2.4" stroke="#505050" stroke-width="0.9" fill="none"/>
<path d="M477.77 195.4V234.0" stroke="#6a6a6a" stroke-width="0.85" fill="none"/>
<path d="M476.57 195.4h2.4M476.57 234.0h2.4" stroke="#505050" stroke-width="0.9" fill="none"/>
<path d="M484.96 197.2V231.7" stroke="#6a6a6a" stroke-width="0.85" fill="none"/>
<path d="M483.76 197.2h2.4M483.76 231.7h2.4" stroke="#505050" stroke-width="0.9" fill="none"/>
<path d="M492.15 190.5V231.1" stroke="#6a6a6a" stroke-width="0.85" fill="none"/>
<path d="M490.95 190.5h2.4M490.95 231.1h2.4" stroke="#505050" stroke-width="0.9" fill="none"/>
<path d="M499.34 198.3V231.0" stroke="#6a6a6a" stroke-width="0.85" fill="none"/>
<path d="M498.14 198.3h2.4M498.14 231.0h2.4" stroke="#505050" stroke-width="0.9" fill="none"/>
<path d="M506.53 200.2V233.5" stroke="#6a6a6a" stroke-width="0.85" fill="none"/>
<path d="M505.33 200.2h2.4M505.33 233.5h2.4" stroke="#505050" stroke-width="0.9" fill="none"/>
<polyline points="312.40,243.9 319.59,245.7 326.78,249.5 333.97,226.1 341.16,241.6 348.35,239.8 355.54,239.0 362.73,233.9 369.92,230.9 377.11,226.8 384.30,226.3 391.49,228.4 398.68,222.0 405.87,221.3 413.06,219.8 420.25,220.1 427.44,219.9 434.63,222.5 441.82,218.0 449.01,219.7 456.20,217.1 463.39,221.1 470.58,218.0 477.77,214.4 484.96,214.4 492.15,211.0 499.34,214.4 506.53,216.8" fill="none" stroke="#c4344f" stroke-width="1.0"/>
<circle cx="312.40" cy="243.9" r="1.15" fill="#6e1c34"/>
<circle cx="319.59" cy="245.7" r="1.15" fill="#6e1c34"/>
<circle cx="326.78" cy="249.5" r="1.15" fill="#6e1c34"/>
<circle cx="333.97" cy="226.1" r="1.15" fill="#6e1c34"/>
<circle cx="341.16" cy="241.6" r="1.15" fill="#6e1c34"/>
<circle cx="348.35" cy="239.8" r="1.15" fill="#6e1c34"/>
<circle cx="355.54" cy="239.0" r="1.15" fill="#6e1c34"/>
<circle cx="362.73" cy="233.9" r="1.15" fill="#6e1c34"/>
<circle cx="369.92" cy="230.9" r="1.15" fill="#6e1c34"/>
<circle cx="377.11" cy="226.8" r="1.15" fill="#6e1c34"/>
<circle cx="384.30" cy="226.3" r="1.15" fill="#6e1c34"/>
<circle cx="391.49" cy="228.4" r="1.15" fill="#6e1c34"/>
<circle cx="398.68" cy="222.0" r="1.15" fill="#6e1c34"/>
<circle cx="405.87" cy="221.3" r="1.15" fill="#6e1c34"/>
<circle cx="413.06" cy="219.8" r="1.15" fill="#6e1c34"/>
<circle cx="420.25" cy="220.1" r="1.15" fill="#6e1c34"/>
<circle cx="427.44" cy="219.9" r="1.15" fill="#6e1c34"/>
<circle cx="434.63" cy="222.5" r="1.15" fill="#6e1c34"/>
<circle cx="441.82" cy="218.0" r="1.15" fill="#6e1c34"/>
<circle cx="449.01" cy="219.7" r="1.15" fill="#6e1c34"/>
<circle cx="456.20" cy="217.1" r="1.15" fill="#6e1c34"/>
<circle cx="463.39" cy="221.1" r="1.15" fill="#6e1c34"/>
<circle cx="470.58" cy="218.0" r="1.15" fill="#6e1c34"/>
<circle cx="477.77" cy="214.4" r="1.15" fill="#6e1c34"/>
<circle cx="484.96" cy="214.4" r="1.15" fill="#6e1c34"/>
<circle cx="492.15" cy="211.0" r="1.15" fill="#6e1c34"/>
<circle cx="499.34" cy="214.4" r="1.15" fill="#6e1c34"/>
<circle cx="506.53" cy="216.8" r="1.15" fill="#6e1c34"/>
<rect x="0" y="0" width="520" height="1" fill="#575757"/>
<rect x="0" y="306" width="520" height="1" fill="#575757"/>
<rect x="0" y="0" width="1" height="307" fill="#575757"/>
<rect x="519" y="0" width="1" height="307" fill="#575757"/>
<rect x="518" y="1" width="1" height="305" fill="#e0e0e0"/>
</svg>
</body></html>
